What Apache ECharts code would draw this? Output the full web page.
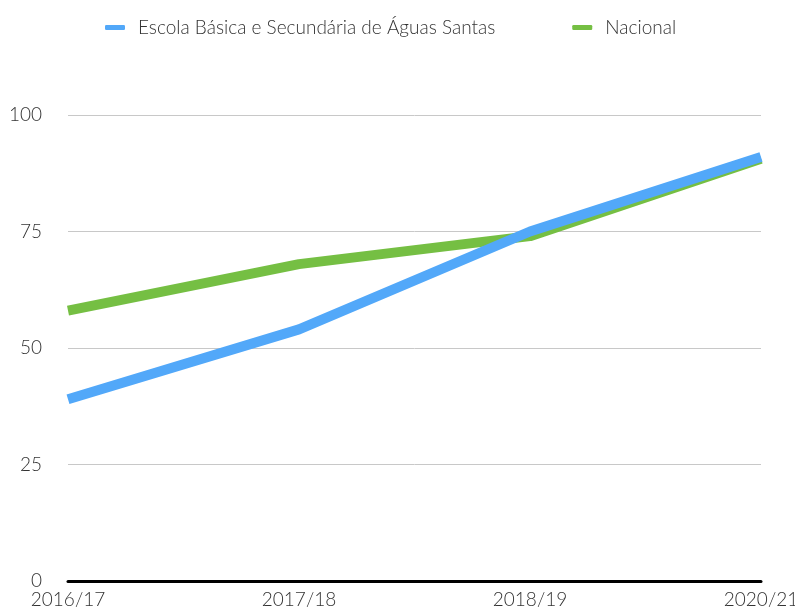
<!DOCTYPE html>
<html>
<head>
<meta charset="utf-8">
<script src="https://cdn.jsdelivr.net/npm/echarts@6/dist/echarts.min.js"></script>
<style>
  html, body { margin: 0; padding: 0; background: #fff; }
  #chart { width: 795px; height: 612px; }
</style>
</head>
<body>
<div id="chart"></div>
<script>
var categories = ["2016/17", "2017/18", "2018/19", "2020/21"];
var escolaValues = [39, 54, 75, 91];
var nacionalValues = [58, 68, 74, 90.6];
var seriesNames = ["Escola Básica e Secundária de Águas Santas", "Nacional"];

var chart = echarts.init(document.getElementById("chart"));
var fontFamily = "Lato, 'Open Sans', sans-serif";

chart.setOption({
  animation: false,
  legend: {
    top: 13,
    left: 100,
    itemWidth: 20,
    itemHeight: 5,
    itemGap: 77,
    icon: "roundRect",
    textStyle: { fontFamily: fontFamily, fontSize: 19, fontWeight: 300, color: "#333", padding: [0, 0, 0, 8] },
    data: seriesNames
  },
  grid: { left: 68, right: 34, top: 115, bottom: 31, outerBoundsMode: "none" },
  xAxis: {
    type: "category",
    data: categories,
    boundaryGap: false,
    axisLine: { lineStyle: { color: "#000", width: 3 } },
    axisTick: { show: false },
    axisLabel: { fontFamily: fontFamily, fontSize: 19, fontWeight: 300, color: "#333", margin: 9 },
    splitLine: { show: false }
  },
  yAxis: {
    type: "value",
    min: 0,
    max: 100,
    interval: 25,
    axisLine: { show: false },
    axisTick: { show: false },
    axisLabel: { fontFamily: fontFamily, fontSize: 19, fontWeight: 300, color: "#333", margin: 26 },
    splitLine: { lineStyle: { color: "#c8c8c8", width: 1 } }
  },
  series: [
    {
      name: seriesNames[1],
      type: "line",
      data: nacionalValues,
      showSymbol: false,
      color: "#75bf43",
      lineStyle: { width: 10, color: "#75bf43" },
      z: 2
    },
    {
      name: seriesNames[0],
      type: "line",
      data: escolaValues,
      showSymbol: false,
      color: "#52a8f9",
      lineStyle: { width: 10, color: "#52a8f9" },
      z: 3
    }
  ]
});
</script>
</body>
</html>
